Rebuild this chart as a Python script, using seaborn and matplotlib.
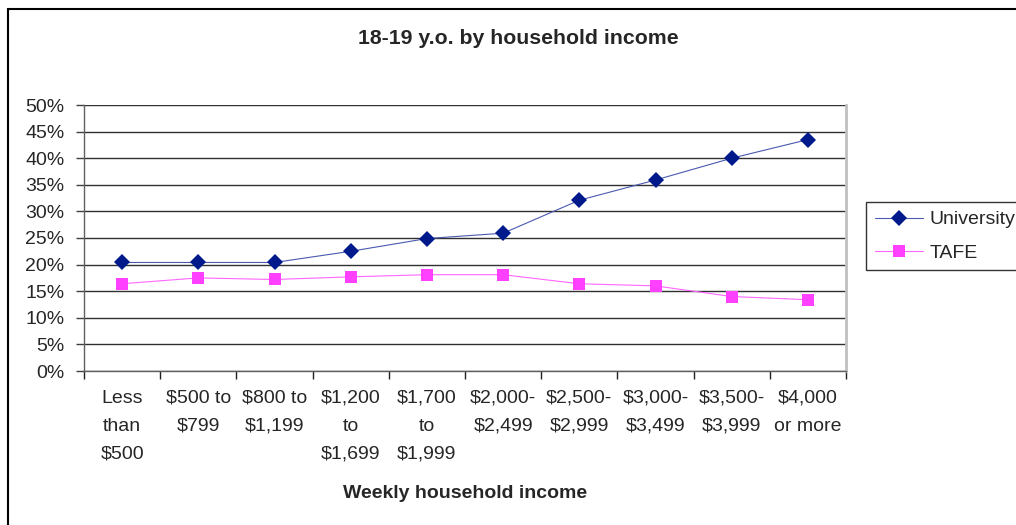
import matplotlib
matplotlib.use("Agg")
import matplotlib.pyplot as plt
import pandas as pd
import seaborn as sns
from matplotlib.patches import Rectangle
from matplotlib.ticker import FixedLocator

# data
income = ['Less\nthan\n$500', '$500 to\n$799', '$800 to\n$1,199', '$1,200\nto\n$1,699',
          '$1,700\nto\n$1,999', '$2,000-\n$2,499', '$2,500-\n$2,999', '$3,000-\n$3,499',
          '$3,500-\n$3,999', '$4,000\nor more']
university = [20.4, 20.4, 20.4, 22.5, 24.9, 25.9, 32.1, 35.9, 40.0, 43.5]
tafe = [16.4, 17.5, 17.2, 17.7, 18.1, 18.1, 16.4, 16.0, 14.0, 13.4]
yticks = list(range(0, 51, 5))

df = pd.DataFrame({'income': income * 2,
                   'share': university + tafe,
                   'type': ['University'] * 10 + ['TAFE'] * 10})

sns.set_style('white')
plt.rcParams['font.family'] = ['Liberation Sans', 'DejaVu Sans']

fig = plt.figure(figsize=(10.16, 5.25), dpi=100)
ax = fig.add_axes([84 / 1016, 1 - 371 / 525, 762 / 1016, 266 / 525])

sns.lineplot(data=df, x='income', y='share', hue='type', style='type',
             palette={'University': '#000080', 'TAFE': '#ff00ff'},
             markers={'University': 'D', 'TAFE': 's'}, dashes=False,
             linewidth=0.8, markersize=8, markeredgewidth=0, sort=False, ax=ax)

# recolour markers like the Excel original
for line in ax.get_lines():
    if line.get_marker() == 's':
        line.set_color('#ff66ff')
        line.set_markerfacecolor('#ff40ff')
    elif line.get_marker() == 'D':
        line.set_color('#4a5ab0')
        line.set_markerfacecolor('#001a8c')

ax.set_xlim(-0.5, 9.5)
ax.set_ylim(0, 50)
ax.set_yticks(yticks)
ax.set_yticklabels([f'{v}%' for v in yticks], fontsize=14)
ax.set_xticks(range(10))
ax.set_xticklabels([])
# stacked category labels, drawn at the category positions with wider spacing
for i, lab in enumerate(income):
    ax.annotate(lab, xy=(i, 0), xycoords=('data', 'axes fraction'),
                xytext=(0, -13.5), textcoords='offset points',
                ha='center', va='top', fontsize=14, linespacing=1.84)
ax.xaxis.set_minor_locator(FixedLocator([i - 0.5 for i in range(11)]))
ax.tick_params(axis='x', which='major', length=0)
ax.tick_params(axis='x', which='minor', bottom=True, length=6, width=1,
               color='#202020', direction='out')
ax.tick_params(axis='y', which='major', length=6, width=1, color='#404040',
               direction='out', left=True, pad=8)
ax.grid(axis='y', color='#303030', linewidth=1)
ax.set_axisbelow(True)
for side in ['left', 'bottom']:
    ax.spines[side].set_color('#606060')
    ax.spines[side].set_linewidth(1)
ax.spines['top'].set_visible(False)
ax.spines['right'].set_color('#c0c0c0')
ax.spines['right'].set_linewidth(2)

ax.set_xlabel('Weekly household income', fontsize=14, fontweight='bold')
ax.xaxis.set_label_coords(0.5, -0.428)
ax.set_ylabel('')
fig.text(518 / 1016, 1 - 38 / 525, '18-19 y.o. by household income',
         fontsize=15.3, fontweight='bold', ha='center', va='center')

handles, labels = ax.get_legend_handles_labels()
ax.get_legend().remove()
leg = fig.legend(handles, labels, loc='upper left',
                 bbox_to_anchor=(866 / 1016, 1 - 202 / 525), fontsize=14,
                 frameon=True, fancybox=False, handlelength=2.5,
                 borderaxespad=0, labelspacing=0.8, handletextpad=0.3,
                 borderpad=0.45)
leg.get_frame().set_edgecolor('black')
leg.get_frame().set_linewidth(1)

# outer chart border
fig.patches.append(Rectangle((8 / 1016, -0.1), 1.2, 1.1 - 9 / 525,
                             transform=fig.transFigure, fill=False,
                             edgecolor='black', linewidth=1.5, zorder=0))

fig.savefig('out.png', dpi=100)
